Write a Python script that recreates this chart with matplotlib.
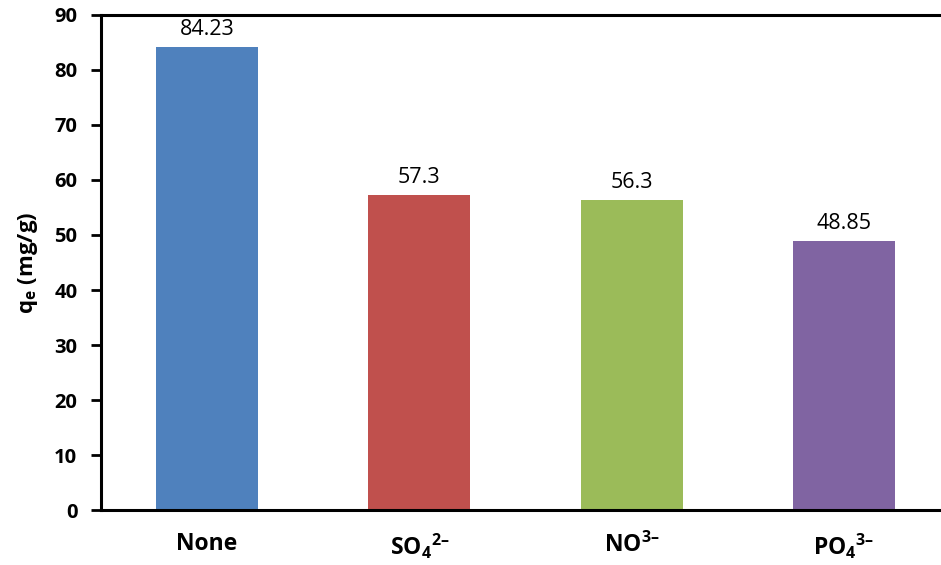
import matplotlib
matplotlib.use("Agg")
import matplotlib.pyplot as plt

plt.rcParams['font.family'] = ['Open Sans', 'DejaVu Sans']
plt.rcParams['mathtext.fontset'] = 'custom'
plt.rcParams['mathtext.rm'] = 'Open Sans'
plt.rcParams['mathtext.bf'] = 'Open Sans:bold'

categories = ["None",
              "$\\mathbf{SO_4}$$\\mathbf{^{2\u2013}}$",
              "$\\mathbf{NO}$$\\mathbf{^{3\u2013}}$",
              "$\\mathbf{PO_4}$$\\mathbf{^{3\u2013}}$"]
values = [84.23, 57.3, 56.3, 48.85]
value_labels = ["84.23", "57.3", "56.3", "48.85"]
colors = ["#4F81BD", "#C0504D", "#9BBB59", "#8064A2"]
yticks = [0, 10, 20, 30, 40, 50, 60, 70, 80, 90]

fig = plt.figure(figsize=(9.41, 5.65), dpi=100)
ax = fig.add_axes([0.1073, 0.0973, 0.9023, 0.8762])

x = list(range(len(categories)))
ax.bar(x, values, width=0.48, color=colors, zorder=2)
for xi, v, lab in zip(x, values, value_labels):
    ax.annotate(lab, (xi, v), xytext=(0, 5), textcoords="offset points",
                ha="center", va="bottom", fontsize=15.5)

ax.set_xlim(-0.5, 3.5)
ax.set_ylim(0, 90)
ax.set_yticks(yticks)
ax.set_yticklabels([str(t) for t in yticks], fontsize=14.5, fontweight="bold")
ax.set_xticks(x)
ax.set_xticklabels(categories, fontsize=16.5, fontweight="bold")
ax.tick_params(axis="x", length=0, pad=16)
ax.tick_params(axis="y", direction="out", length=7, width=2, pad=10)

ax.spines["right"].set_visible(False)
for s in ["left", "bottom", "top"]:
    ax.spines[s].set_linewidth(2.2)

ax.set_ylabel(r"$\mathbf{q_e}$ (mg/g)", fontsize=16, fontweight="bold", labelpad=10)

fig.savefig("out.png", dpi=100)
